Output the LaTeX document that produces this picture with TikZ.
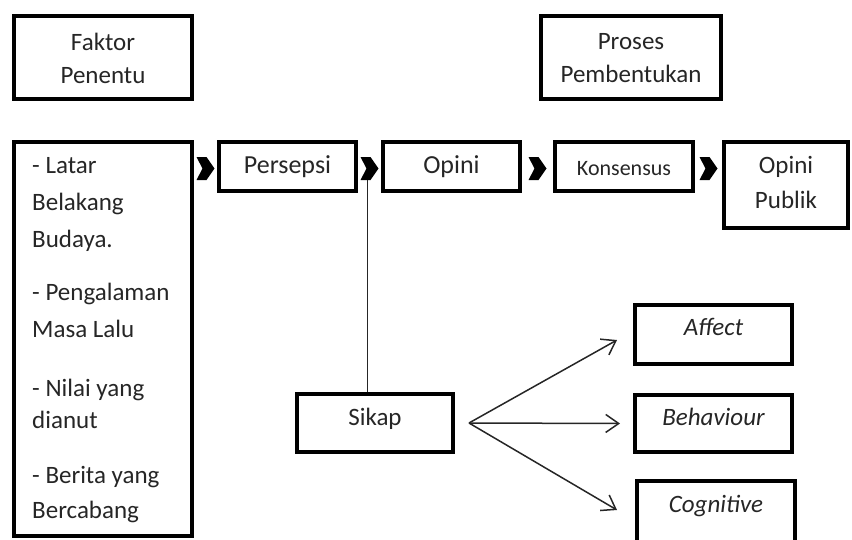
\documentclass[tikz,border=0pt]{standalone}
\usepackage{fontspec}
\setmainfont{Carlito}
\usetikzlibrary{arrows.meta,calc}
\definecolor{txt}{HTML}{262626}
\begin{document}
\begin{tikzpicture}[x=1pt,y=-1pt,
  box/.style={draw=black,line width=4pt,inner sep=0pt,text=txt,align=center,
    font=\fontsize{25}{33}\selectfont},
  tb/.style 2 args={text height=#1pt,text depth=#2pt},
  item/.style={anchor=base west,inner sep=0pt,text=txt,align=left},
  conn/.style={line width=1.5pt,draw=black!85},
  arr/.style={conn,-{Straight Barb[length=13pt,width=18pt,line width=1.5pt]}},
  chev/.pic={\fill[black] (-9,-11.5) -- (1,-11.5) -- (9,0) -- (1,11.5) -- (-9,11.5) -- (-3,0) -- cycle;}
]
\useasboundingbox (0,0) rectangle (852,539);
\clip (0,0) rectangle (852,539);

% header boxes (base of a multi-line node = its last line)
\node[box,minimum width=178pt,minimum height=83pt,tb={57}{6}] (faktor) at (103,57.5) {Faktor\\Penentu};
\node[box,minimum width=180pt,minimum height=83pt,tb={56}{6}] (proses) at (631,57.5) {Proses\\Pembentukan};

% left list box
\node[box,minimum width=178pt,minimum height=394pt] (left) at (103,339) {};
\node[item,font=\fontsize{25}{37}\selectfont] (i1) at (32,247) {- Latar\\Belakang\\Budaya.};
\node[item,font=\fontsize{25}{37}\selectfont] (i2) at (32,337) {- Pengalaman\\Masa Lalu};
\node[item,font=\fontsize{25}{32}\selectfont] (i3) at (32,428) {- Nilai yang\\dianut};
\node[item,font=\fontsize{25}{35}\selectfont] (i4) at (32,518) {- Berita yang\\Bercabang};

% process row
\node[box,minimum width=137pt,minimum height=49pt,tb={17}{4},font=\fontsize{26}{30}\selectfont] (persepsi) at (287.5,166.5) {Persepsi};
\node[box,minimum width=137pt,minimum height=49pt,tb={17}{4},font=\fontsize{26}{30}\selectfont] (opini) at (451.5,166.5) {Opini};
\node[box,minimum width=138pt,minimum height=49pt,tb={21}{4},font=\fontsize{22}{26}\selectfont] (konsensus) at (624,166.5) {Konsensus};
\node[box,minimum width=124pt,minimum height=86pt,tb={52}{6},font=\fontsize{25}{35}\selectfont] (publik) at (786,185) {Opini\\Publik};

% attitude
\node[box,minimum width=156pt,minimum height=58pt,tb={17}{13}] (sikap) at (375,423) {Sikap};
\node[box,minimum width=157pt,minimum height=59pt,tb={17}{16},font=\fontsize{25}{30}\itshape] (affect) at (713.5,334.5) {Affect};
\node[box,minimum width=157pt,minimum height=57pt,tb={17}{14},font=\fontsize{25}{30}\itshape] (behaviour) at (713.5,423.5) {Behaviour};
\node[box,minimum width=158pt,minimum height=76pt,tb={17}{31},font=\fontsize{25}{30}\itshape] (cognitive) at (716,519) {Cognitive};

% chevrons
\coordinate (c1) at ($($(left.east |- persepsi.west)!0.5!(persepsi.west)$)+(0,2)$);
\coordinate (c2) at ($($(persepsi.east)!0.5!(opini.west)$)+(0,2)$);
\coordinate (c3) at ($($(opini.east)!0.5!(konsensus.west)$)+(0,2)$);
\coordinate (c4) at ($($(konsensus.east)!0.5!(publik.west |- konsensus.east)$)+(0,2)$);
\pic at (c1) {chev};
\pic at (c2) {chev};
\pic at (c3) {chev};
\pic at (c4) {chev};

% vertical line to Sikap
\coordinate (vtop) at ($(c2)+(-2,11.5)$);
\draw[conn] (vtop) -- (vtop |- sikap.north);

% arrows from Sikap
\coordinate (fork) at ($(sikap.east)+(14,0)$);
\draw[arr] (fork) -- ($(affect.west)+(-16,5.5)$);
\draw[arr] (fork) -- ($(behaviour.west)+(-13,0)$);
\draw[arr] (fork) -- ($(cognitive.west)+(-18,-9)$);
\end{tikzpicture}
\end{document}
